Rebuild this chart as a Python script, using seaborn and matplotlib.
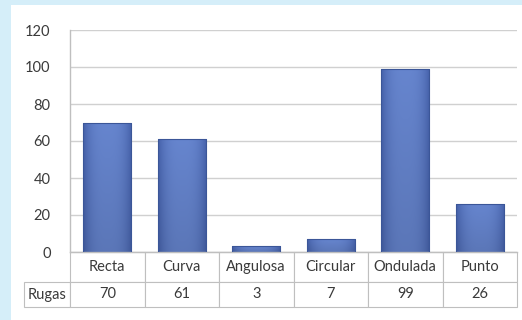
import numpy as np
import pandas as pd
import matplotlib
matplotlib.use("Agg")
import matplotlib.pyplot as plt
from matplotlib.patches import Rectangle
from matplotlib.colors import to_rgb
from matplotlib.table import Table
import seaborn as sns

categories = ["Recta", "Curva", "Angulosa", "Circular", "Ondulada", "Punto"]
values = [70, 61, 3, 7, 99, 26]
series_name = "Rugas"
yticks = [0, 20, 40, 60, 80, 100, 120]

sns.set_style("white")
plt.rcParams["font.family"] = ["Lato", "DejaVu Sans"]
text_color = "#3a3a3a"
grid_color = "#d0d0d0"
line_color = "#bfbfbf"
fs = 10.5

W, H = 522, 320
fig = plt.figure(figsize=(W / 100, H / 100), dpi=100, facecolor="#d5eef9")
fig.patches.append(Rectangle((11 / W, 0), 1 - 11 / W, 1 - 5 / H, transform=fig.transFigure,
                             facecolor="white", edgecolor="none", zorder=-10))

ax = fig.add_axes([70 / W, 1 - 252 / H, 447 / W, 222 / H])
ax.set_zorder(1)
ax.set_facecolor("white")

df = pd.DataFrame({"cat": categories, "val": values})
sns.barplot(data=df, x="cat", y="val", ax=ax, color="#5874bd", width=0.65,
            edgecolor="#3b5698", linewidth=0.8, saturation=1, zorder=3)

# gradient fill for bars
c_mid = np.array(to_rgb("#6381c8"))
c_edge = np.array(to_rgb("#445fa6"))
nx, ny = 40, 60
xs = np.linspace(-1, 1, nx)
hprof = np.abs(xs) ** 3
for p in ax.patches:
    x0, y0 = p.get_x(), p.get_y()
    w, h = p.get_width(), p.get_height()
    img = c_mid[None, None, :] * (1 - hprof[None, :, None]) + c_edge[None, None, :] * hprof[None, :, None]
    img = np.repeat(img, ny, axis=0)
    vshade = np.linspace(1.03, 0.92, ny)[:, None, None]
    img = np.clip(img * vshade, 0, 1)
    im = ax.imshow(img, extent=[x0, x0 + w, y0, y0 + h], origin="upper",
                   aspect="auto", zorder=2.5, interpolation="bilinear")
    im.set_clip_path(p)
    p.set_facecolor("none")
ax.set_ylim(0, 120)
ax.set_xlim(-0.5, len(categories) - 0.5)
ax.set_aspect("auto")

ax.set_yticks(yticks)
ax.set_yticklabels([str(t) for t in yticks], color=text_color, fontsize=fs)
ax.yaxis.grid(True, color=grid_color, linewidth=1, zorder=0)
ax.set_axisbelow(True)
ax.tick_params(axis="y", length=0, pad=14)
ax.tick_params(axis="x", length=0, labelbottom=False)
ax.set_xlabel("")
ax.set_ylabel("")
for s in ["top", "right"]:
    ax.spines[s].set_visible(False)
ax.spines["left"].set_color(line_color)
ax.spines["bottom"].set_color(line_color)
ax.spines["left"].set_linewidth(1)
ax.spines["bottom"].set_linewidth(1)

# data table below
rl = 46 / 447
h0, h1 = 30 / 222, 25 / 222
n = len(categories)
tbl = Table(ax, bbox=[0, -(h0 + h1), 1, h0 + h1])
for j, cat in enumerate(categories):
    tbl.add_cell(0, j, width=1 / n, height=h0, text=cat, loc="center")
    tbl.add_cell(1, j, width=1 / n, height=h1, text=str(values[j]), loc="center")
tbl.add_cell(1, -1, width=rl, height=h1, text=series_name, loc="center")
tbl.auto_set_font_size(False)
tbl.set_fontsize(fs)
for (r, c), cell in tbl.get_celld().items():
    cell.set_edgecolor(line_color)
    cell.set_linewidth(0.8)
    cell.set_facecolor("white")
    cell.get_text().set_color(text_color)
ax.add_table(tbl)

fig.savefig("out.png", dpi=100, facecolor=fig.get_facecolor())
